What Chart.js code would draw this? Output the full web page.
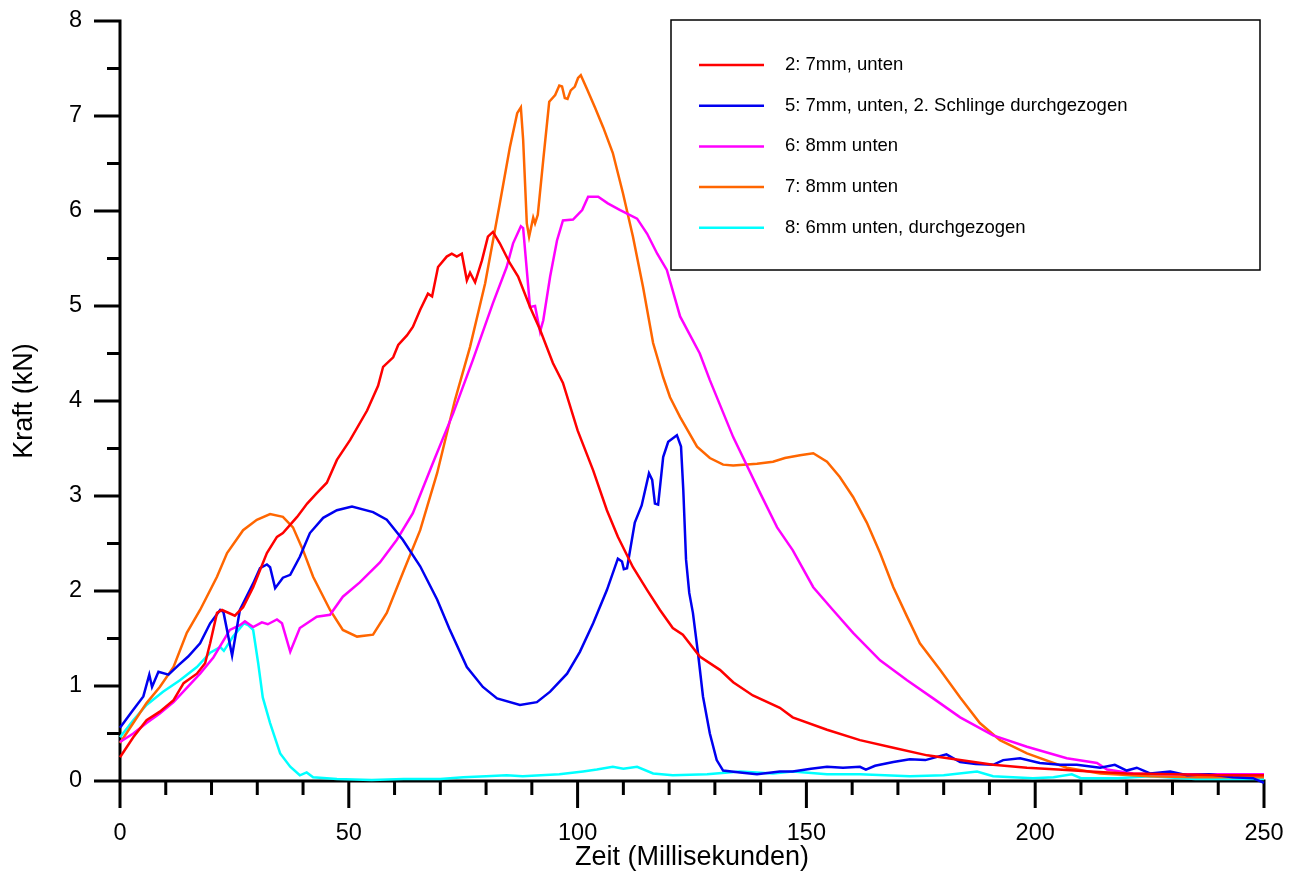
<!DOCTYPE html>
<html>
<head>
<meta charset="utf-8">
<script src="https://cdn.jsdelivr.net/npm/chart.js@4.4.1/dist/chart.umd.min.js"></script>
<style>
  html, body { margin: 0; padding: 0; background: #ffffff; }
  #wrap { width: 1295px; height: 876px; }
</style>
</head>
<body>
<div id="wrap"><canvas id="kraftChart" width="1295" height="876"></canvas></div>
<script>
// Messreihen: [Zeit (ms), Kraft (kN)]
const serie2 = [[0,0.25],[2.9,0.46],[5.8,0.64],[8.7,0.73],[11.7,0.85],[13.9,1.03],[16.8,1.13],[18.6,1.24],[19.7,1.45],[21.2,1.77],[22.3,1.8],[25.1,1.74],[26.9,1.83],[29.1,2.04],[32.1,2.4],[34.3,2.57],[35.6,2.61],[38.7,2.78],[40.9,2.92],[43,3.03],[45.2,3.14],[47.4,3.38],[50.3,3.59],[54,3.9],[56.4,4.16],[57.5,4.36],[59.7,4.46],[60.8,4.59],[62.7,4.69],[64,4.78],[65.6,4.96],[67.3,5.13],[68.2,5.1],[69.5,5.41],[71.4,5.52],[72.5,5.55],[73.6,5.52],[74.7,5.55],[75.8,5.27],[76.5,5.35],[77.6,5.25],[79.1,5.48],[80.4,5.73],[81.5,5.78],[83,5.66],[85.2,5.45],[87,5.31],[89.6,4.99],[91.8,4.75],[94.6,4.4],[96.8,4.19],[100,3.69],[103.4,3.27],[106.4,2.85],[108.8,2.57],[112.1,2.25],[115.2,2.01],[118,1.8],[120.8,1.61],[123,1.54],[126.7,1.31],[131.1,1.17],[134,1.04],[138.3,0.9],[144.2,0.77],[147,0.67],[154.5,0.54],[161.7,0.43],[169,0.35],[176.4,0.27],[183.6,0.22],[190.8,0.17],[198.2,0.14],[205,0.12],[212,0.1],[220,0.08],[230,0.07],[240,0.06],[250,0.06]];

const serie5 = [[0,0.56],[2.9,0.75],[5.1,0.89],[6.4,1.12],[7,0.99],[8.4,1.15],[10.6,1.12],[12.8,1.22],[14.9,1.31],[17.5,1.45],[19.7,1.66],[21.9,1.8],[22.6,1.78],[24.5,1.32],[26.2,1.8],[29.1,2.08],[30.6,2.24],[32.1,2.28],[32.8,2.25],[33.9,2.03],[35.6,2.14],[37.2,2.17],[39.3,2.36],[41.5,2.61],[44.4,2.77],[47.4,2.85],[50.7,2.89],[55.3,2.83],[58.3,2.75],[61.8,2.54],[65.6,2.26],[69.3,1.91],[72,1.6],[75.8,1.2],[79.3,0.99],[82.4,0.87],[87.4,0.8],[91.1,0.83],[94,0.94],[97.7,1.13],[100.5,1.36],[103.4,1.66],[106.4,2.01],[108.8,2.34],[109.7,2.31],[110.1,2.23],[110.8,2.24],[112.5,2.72],[114,2.9],[115.6,3.24],[116.3,3.17],[116.9,2.92],[117.6,2.91],[118.7,3.41],[119.8,3.57],[121.7,3.64],[122.6,3.52],[123.1,3.06],[123.7,2.33],[124.4,1.98],[125.2,1.77],[126.3,1.35],[127.4,0.89],[128.9,0.5],[130.4,0.22],[131.8,0.11],[135.5,0.09],[139.2,0.07],[144.2,0.1],[147,0.1],[151,0.13],[154.5,0.15],[158,0.14],[161.7,0.15],[163,0.12],[165,0.16],[169,0.2],[172.6,0.23],[176,0.22],[180.6,0.28],[183.6,0.2],[187,0.18],[190.8,0.17],[193,0.22],[196.7,0.24],[201,0.19],[205.4,0.17],[209.1,0.17],[214.2,0.14],[217.4,0.17],[220,0.11],[222.2,0.14],[225.1,0.08],[229.5,0.1],[233.2,0.06],[238,0.07],[243.2,0.04],[247.6,0.03],[250,-0.02]];

const serie6 = [[0,0.41],[2.9,0.5],[5.8,0.61],[8.7,0.71],[11.7,0.83],[14.6,0.98],[17.5,1.13],[20.4,1.3],[24,1.59],[26.2,1.64],[27.3,1.68],[29.1,1.62],[31,1.67],[32.3,1.65],[34.3,1.7],[35.4,1.66],[37.2,1.36],[39.3,1.61],[43,1.73],[45.9,1.75],[48.7,1.94],[52.4,2.09],[56.8,2.3],[60.5,2.54],[64,2.82],[68.4,3.35],[72.8,3.87],[77.1,4.43],[81.5,5.03],[84.5,5.41],[85.9,5.66],[87.6,5.84],[88.1,5.82],[89.6,4.99],[90.7,5.0],[91.8,4.73],[92.5,4.85],[94,5.31],[95.5,5.69],[96.8,5.9],[99,5.91],[101,6.01],[102.3,6.15],[104.5,6.15],[106.6,6.08],[109.3,6.01],[113,5.92],[115.2,5.76],[117.4,5.55],[119.5,5.38],[122.4,4.89],[126.7,4.5],[128.9,4.22],[134,3.62],[139.9,3.03],[143.6,2.67],[147,2.43],[151.5,2.04],[155.8,1.8],[160.2,1.56],[166.1,1.27],[172,1.06],[177.7,0.87],[183.6,0.67],[190.8,0.48],[198.2,0.36],[206.9,0.24],[213.5,0.19],[215.7,0.12],[221.4,0.08],[230,0.07],[240,0.07],[250,0.07]];

const serie7 = [[0,0.4],[2.9,0.61],[5.8,0.82],[8.7,0.99],[11.7,1.2],[14.6,1.56],[17.5,1.8],[21.2,2.15],[23.4,2.4],[26.9,2.64],[29.9,2.75],[32.8,2.81],[35.6,2.78],[37.8,2.67],[40,2.43],[42.2,2.15],[45.9,1.8],[48.7,1.59],[51.8,1.52],[55.3,1.54],[58.3,1.77],[61.8,2.19],[65.6,2.64],[69.3,3.24],[73.2,4.01],[76.5,4.57],[79.8,5.24],[83,6.08],[85.2,6.67],[86.8,7.03],[87.6,7.09],[88.1,6.75],[88.9,5.87],[89.4,5.73],[90.3,5.93],[90.7,5.87],[91.3,5.96],[92.5,6.54],[93.8,7.15],[95.1,7.22],[96,7.32],[96.6,7.31],[97.2,7.19],[97.8,7.18],[98.5,7.27],[99.4,7.31],[100.1,7.4],[100.7,7.43],[102,7.29],[103.8,7.09],[105.6,6.88],[107.7,6.61],[109.9,6.19],[112.1,5.73],[114.3,5.2],[116.5,4.61],[118.7,4.25],[120.2,4.04],[122.4,3.83],[126.1,3.52],[128.9,3.4],[131.8,3.33],[134,3.32],[139.2,3.34],[142.7,3.36],[145.3,3.4],[148.6,3.43],[151.5,3.45],[154.5,3.36],[157.3,3.2],[160.2,2.99],[163.2,2.72],[166.1,2.4],[169,2.04],[172,1.73],[174.8,1.45],[179.2,1.17],[183.6,0.88],[187.9,0.61],[192.3,0.43],[198.2,0.29],[206.9,0.14],[214.2,0.08],[225,0.05],[235,0.04],[250,0.04]];

const serie8 = [[0,0.46],[2.9,0.64],[5.8,0.8],[9.4,0.94],[13.1,1.06],[16.8,1.2],[19.7,1.35],[21.9,1.41],[22.7,1.37],[24.7,1.52],[27.1,1.66],[28,1.64],[29.1,1.59],[30.2,1.24],[31.2,0.88],[32.8,0.61],[35,0.29],[37.2,0.15],[39.3,0.06],[40.8,0.09],[42.2,0.04],[47.4,0.02],[55,0.01],[62,0.02],[70,0.02],[75,0.04],[80,0.05],[84.5,0.06],[88,0.05],[92,0.06],[96,0.07],[101.2,0.1],[104.2,0.12],[107.7,0.15],[110,0.13],[113,0.15],[116.5,0.08],[120.8,0.06],[128.3,0.07],[135.5,0.1],[142.7,0.08],[147,0.1],[154.5,0.07],[161.7,0.07],[172.6,0.05],[180,0.06],[187.3,0.1],[190.8,0.05],[199.5,0.03],[204,0.04],[208,0.07],[210,0.03],[218,0.03],[225,0.05],[235,0.02],[250,0.02]];

const labels = ['2: 7mm, unten', '5: 7mm, unten, 2. Schlinge durchgezogen', '6: 8mm unten', '7: 8mm unten', '8: 6mm unten, durchgezogen'];
const colors = ['#ff0000', '#0000f0', '#ff00ff', '#ff6600', '#00ffff'];
const series = [serie2, serie5, serie6, serie7, serie8];

const FONT = "'Liberation Sans', Arial, Helvetica, sans-serif";

// Achsen, Teilstriche, Achsentitel und Legende
const axesPlugin = {
    id: 'axesPlugin',
    beforeDatasetsDraw(chart) {
        const ctx = chart.ctx;
        const xs = chart.scales.x;
        const ys = chart.scales.y;
        const x0 = xs.getPixelForValue(0);
        const y0 = ys.getPixelForValue(0);
        ctx.save();
        ctx.strokeStyle = '#000';
        ctx.lineWidth = 3;
        ctx.lineCap = 'butt';
        ctx.beginPath();
        // y-Achse
        ctx.moveTo(x0, ys.getPixelForValue(8) - 1.5);
        ctx.lineTo(x0, y0 + 27);
        // x-Achse
        ctx.moveTo(x0 - 26, y0);
        ctx.lineTo(xs.getPixelForValue(250) + 1.5, y0);
        for (let v = 0; v <= 250; v += 10) {
            const px = xs.getPixelForValue(v);
            ctx.moveTo(px, y0);
            ctx.lineTo(px, y0 + (v % 50 === 0 ? 27 : 14));
        }
        for (let v = 0; v <= 8; v += 0.5) {
            const py = ys.getPixelForValue(v);
            ctx.moveTo(x0, py);
            ctx.lineTo(x0 - (v % 1 === 0 ? 26 : 13), py);
        }
        ctx.stroke();
        ctx.restore();
    },
    afterDraw(chart) {
        const ctx = chart.ctx;
        const area = chart.chartArea;
        ctx.save();
        ctx.fillStyle = '#000';
        // Achsentitel
        ctx.font = '27px ' + FONT;
        ctx.textAlign = 'center';
        ctx.textBaseline = 'middle';
        ctx.fillText('Zeit (Millisekunden)', (area.left + area.right) / 2, 858);
        ctx.translate(25, (area.top + area.bottom) / 2);
        ctx.rotate(-Math.PI / 2);
        ctx.fillText('Kraft (kN)', 0, 0);
        ctx.restore();

        // Legende
        ctx.save();
        const bx = area.right - 593, by = area.top - 1, bw = 589, bh = 250;
        ctx.fillStyle = '#fff';
        ctx.fillRect(bx, by, bw, bh);
        ctx.strokeStyle = '#000';
        ctx.lineWidth = 1.5;
        ctx.strokeRect(bx, by, bw, bh);
        ctx.font = '18.5px ' + FONT;
        ctx.textAlign = 'left';
        ctx.textBaseline = 'middle';
        chart.data.datasets.forEach(function(ds, i) {
            const ly = by + 45 + i * 40.7;
            ctx.strokeStyle = ds.borderColor;
            ctx.lineWidth = 2.5;
            ctx.beginPath();
            ctx.moveTo(bx + 28, ly);
            ctx.lineTo(bx + 93, ly);
            ctx.stroke();
            ctx.fillStyle = '#000';
            ctx.fillText(ds.label, bx + 114, ly);
        });
        ctx.restore();
    }
};

const datasets = series.map(function(s, i) {
    return {
        label: labels[i],
        data: s.map(function(p) { return { x: p[0], y: p[1] }; }),
        borderColor: colors[i],
        borderWidth: 2.5,
        pointRadius: 0,
        tension: 0,
        fill: false,
        clip: 6
    };
});

new Chart(document.getElementById('kraftChart'), {
    type: 'line',
    data: { datasets: datasets },
    plugins: [axesPlugin],
    options: {
        responsive: false,
        animation: false,
        events: [],
        layout: { padding: { top: 21, right: 31, left: 0, bottom: 0 } },
        plugins: {
            legend: { display: false },
            tooltip: { enabled: false }
        },
        scales: {
            x: {
                type: 'linear',
                min: 0,
                max: 250,
                grid: { display: false, drawTicks: false },
                border: { display: false },
                ticks: {
                    stepSize: 50,
                    padding: 38,
                    color: '#000',
                    maxRotation: 0,
                    font: { family: FONT, size: 23.5 }
                },
                afterFit: function(scale) {
                    scale.height = 95;
                    scale.paddingLeft = 0;
                    scale.paddingRight = 0;
                }
            },
            y: {
                type: 'linear',
                min: 0,
                max: 8,
                grid: { display: false, drawTicks: false },
                border: { display: false },
                ticks: {
                    stepSize: 1,
                    padding: 38,
                    color: '#000',
                    font: { family: FONT, size: 23.5 }
                },
                afterFit: function(scale) {
                    scale.width = 120;
                    scale.paddingTop = 0;
                    scale.paddingBottom = 0;
                }
            }
        }
    }
});
</script>
</body>
</html>
